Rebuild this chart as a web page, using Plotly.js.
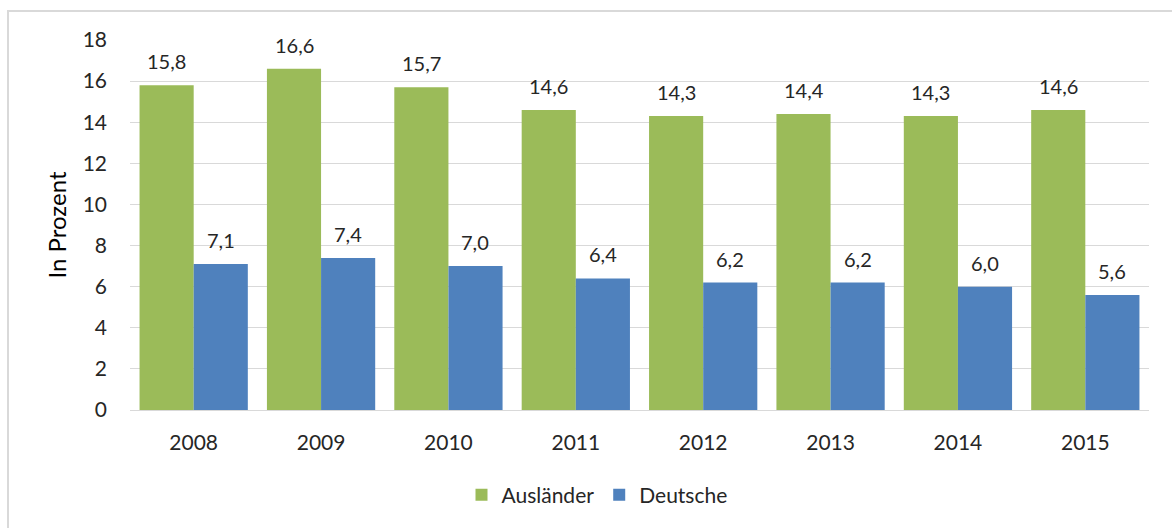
<!DOCTYPE html>
<html><head><meta charset="utf-8">
<script src="https://cdn.plot.ly/plotly-3.0.1.min.js"></script>
<style>html,body{margin:0;padding:0;background:#fff;}#chart{width:1172px;height:528px;}</style>
</head><body><div id="chart"></div>
<script>
const years = ['2008','2009','2010','2011','2012','2013','2014','2015'];
const auslaender = [15.8,16.6,15.7,14.6,14.3,14.4,14.3,14.6];
const deutsche = [7.1,7.4,7.0,6.4,6.2,6.2,6.0,5.6];
const seriesNames = ['Ausländer','Deutsche'];
const colors = ['#9BBB59','#4F81BD'];
const fontFam = 'Lato, "Open Sans", sans-serif';
const txtColor = '#262626';

const fmt = v => v.toFixed(1).replace('.', ',');
const traces = [auslaender, deutsche].map((vals,i)=>({
  type:'bar', x:years, y:vals, name:seriesNames[i],
  marker:{color:colors[i]}, hoverinfo:'skip'
}));

const annotations = [];
[auslaender, deutsche].forEach((vals,i)=>{
  vals.forEach((v,j)=>{
    annotations.push({
      x:j, y:v, xref:'x', yref:'y', text:fmt(v), showarrow:false,
      xanchor:'center', yanchor:'bottom', yshift:10,
      xshift:(i===0?-1:1)*27,
      font:{family:fontFam, size:20, color:txtColor}
    });
  });
});

const pw = 1019, ph = 370, ml = 130, mt = 40;
const px2x = p => (p-ml)/pw;
const px2y = p => (mt+ph-p)/ph;

const layout = {
  width:1172, height:528,
  margin:{l:ml, r:1172-ml-pw, t:mt, b:528-mt-ph},
  paper_bgcolor:'#ffffff', plot_bgcolor:'#ffffff',
  barmode:'group', bargap:0.15, bargroupgap:0,
  font:{family:fontFam, size:21, color:txtColor},
  xaxis:{type:'category', range:[-0.5, years.length-0.5], autorange:false, showgrid:false, showline:true, linecolor:'#d9d9d9', linewidth:1,
    ticks:'', tickfont:{family:fontFam,size:21,color:txtColor}, ticklabelstandoff:14},
  yaxis:{range:[0,18], autorange:false, dtick:2, tick0:0, showgrid:true, gridcolor:'#d9d9d9', gridwidth:1,
    zeroline:true, zerolinecolor:'#d9d9d9', ticks:'', showline:false,
    tickfont:{family:fontFam,size:21,color:txtColor}, ticklabelstandoff:22,
    title:{text:'In Prozent', font:{family:fontFam,size:24,color:'#000'}, standoff:9}},
  showlegend:true,
  legend:{orientation:'h', x:px2x(597), xanchor:'center', y:px2y(495), yanchor:'middle',
    font:{family:fontFam,size:21,color:txtColor}, itemwidth:30, traceorder:'normal'},
  annotations:annotations,
  shapes:[{type:'rect', xref:'paper', yref:'paper',
    x0:px2x(8), x1:px2x(1180), y0:px2y(540), y1:px2y(11),
    line:{color:'#d9d9d9', width:2}, fillcolor:'rgba(0,0,0,0)', layer:'below'}]
};
Plotly.newPlot('chart', traces, layout, {displayModeBar:false, staticPlot:true});
</script></body></html>
